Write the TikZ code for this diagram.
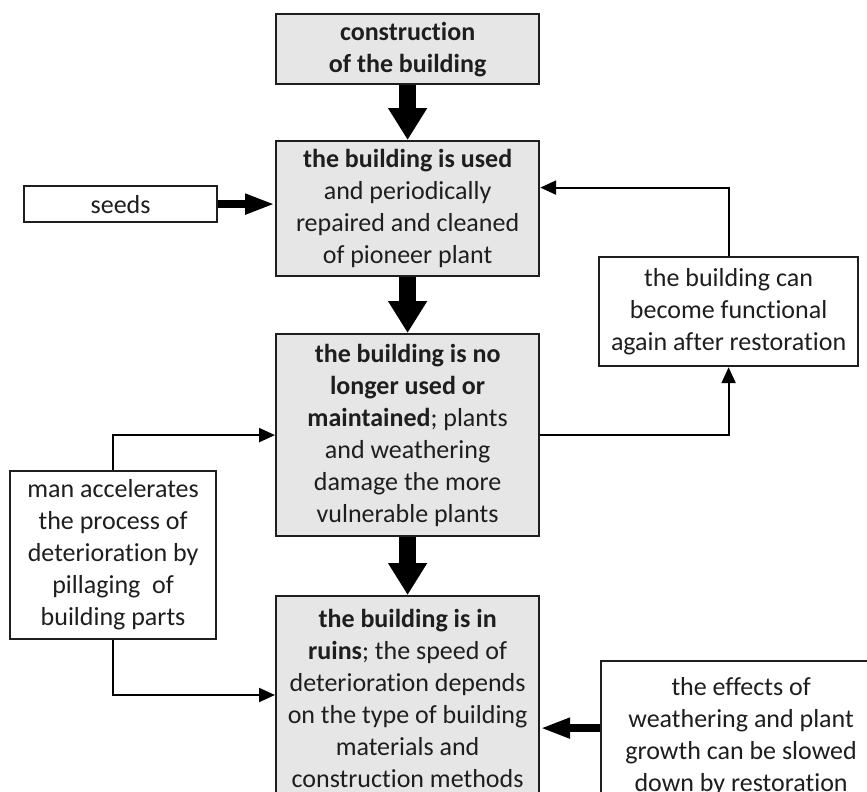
\documentclass[tikz,border=0pt]{standalone}
\usepackage{fontspec}
\setmainfont{Carlito}[Ligatures=NoCommon]
\usetikzlibrary{arrows.meta,positioning}
\definecolor{boxgray}{HTML}{E6E6E6}
\definecolor{ink}{HTML}{1E1E1E}
\tikzset{
  box/.style={draw=ink, line width=2.2pt, align=center, text=ink, inner sep=0pt,
    font=\fontsize{26}{32}\selectfont, anchor=north west},
  graybox/.style={box, fill=boxgray},
  bigarrow/.style={draw=black, line width=17pt, -{Triangle[length=32pt,width=37pt]}},
  sidearrow/.style={draw=black, line width=8pt, -{Triangle[length=30pt,width=19pt]}},
  thinarrow/.style={draw=black, line width=2.2pt, -{Triangle[length=16pt,width=14pt]}},
}
\begin{document}
\begin{tikzpicture}[x=1pt,y=-1pt]
\useasboundingbox (0,0) rectangle (867,792);
\fill[white] (0,0) rectangle (867,792);
\clip (0,0) rectangle (867,792);
\node[graybox, minimum width=263pt, minimum height=70pt] (b1) at (275,13)
  {\textbf{construction}\\\textbf{of the building}};
\node[graybox, minimum width=263pt, minimum height=135pt] (b2) at (275,140)
  {\textbf{the building is used}\\and periodically\\repaired and cleaned\\of pioneer plant};
\node[graybox, minimum width=263pt, minimum height=202pt] (b3) at (275,333)
  {\textbf{the building is no}\\\textbf{longer used or}\\\textbf{maintained}; plants\\and weathering\\damage the more\\vulnerable plants};
\node[graybox, minimum width=263pt, minimum height=205pt] (b4) at (275,595)
  {\textbf{the building is in}\\\textbf{ruins}; the speed of\\deterioration depends\\on the type of building\\materials and\\construction methods};
\node[box, minimum width=193pt, minimum height=36pt] (seeds) at (23,185) {seeds};
\node[box, minimum width=206pt, minimum height=168pt] (man) at (9,470)
  {man accelerates\\the process of\\deterioration by\\pillaging\ \ of\\building parts};
\node[box, minimum width=259pt, minimum height=109pt] (rest) at (598,256)
  {the building can\\become functional\\again after restoration};
\node[box, minimum width=280pt, minimum height=150pt] (eff) at (600,660)
  {the effects of\\weathering and plant\\growth can be slowed\\down by restoration};
\draw[bigarrow] (b1.south) -- (b2.north);
\draw[bigarrow] (b2.south) -- (b3.north);
\draw[bigarrow] (b3.south) -- (b4.north);
\draw[sidearrow] (seeds.east) -- (seeds.east -| b2.west);
\draw[sidearrow] ([yshift=8pt]eff.west) -- ([yshift=8pt]eff.west -| b4.east);
\draw[thinarrow] (rest.north) |- ([yshift=21pt]b2.east);
\draw[thinarrow] (b3.east) -| (rest.south);
\draw[thinarrow] (man.north) |- (b3.west);
\draw[thinarrow] (man.south) |- (b4.west |- 0,695);
\end{tikzpicture}
\end{document}
